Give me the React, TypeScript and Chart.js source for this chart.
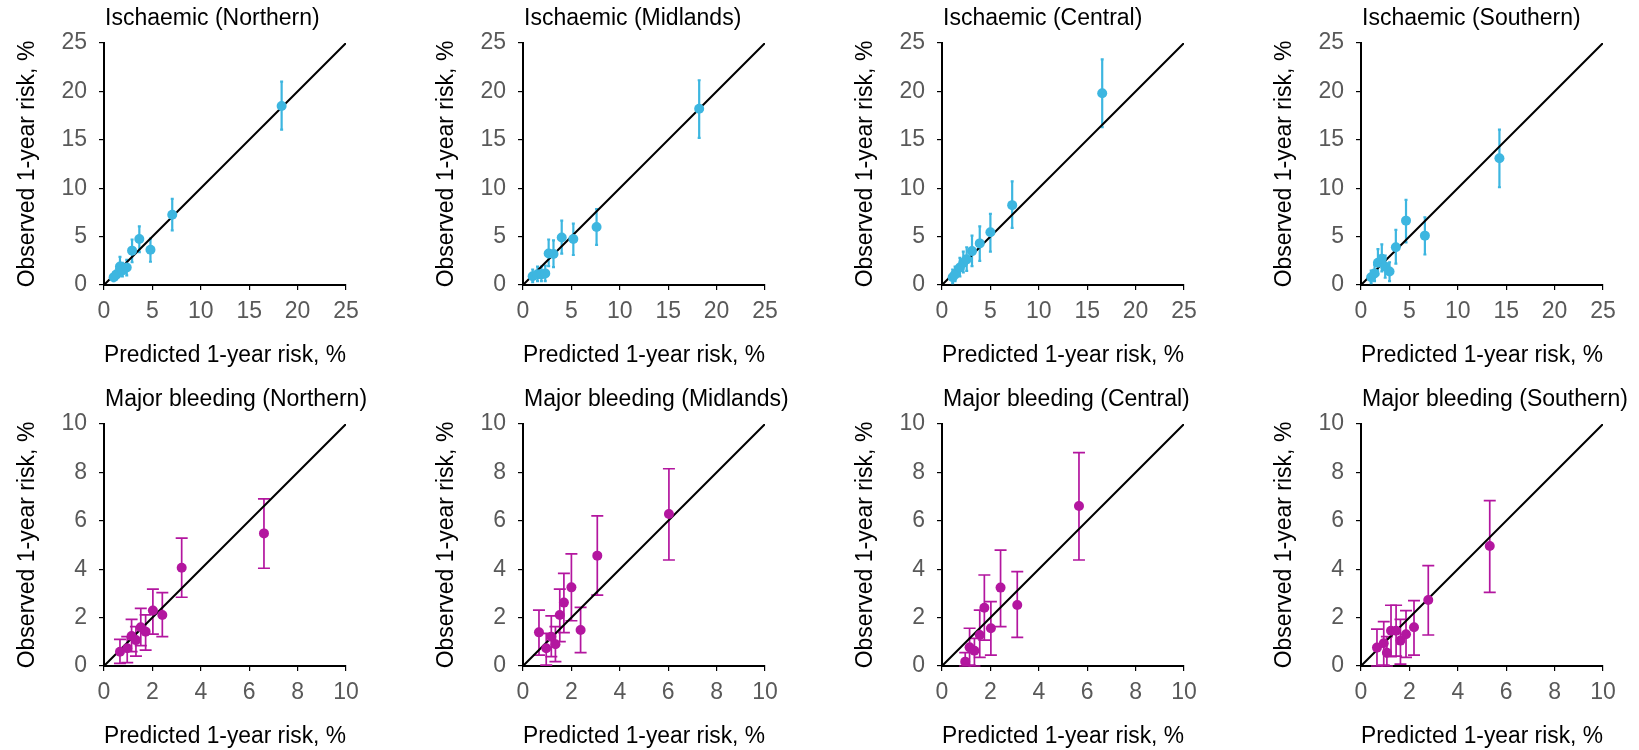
import React, { useEffect, useRef } from 'react';
import { Chart, registerables } from 'chart.js';

Chart.register(...registerables);

const FONT_FAMILY = '"Liberation Sans", Arial, Helvetica, sans-serif';
const ISCH_COLOR = '#3DB6E0';
const BLEED_COLOR = '#B3169F';
const TICK_COLOR = '#595959';

const X_TITLE = 'Predicted 1-year risk, %';
const Y_TITLE = 'Observed 1-year risk, %';

// Ischaemic (Northern)
const ischNorthernPred = [1.0, 1.3, 1.65, 1.9, 2.35, 2.9, 3.65, 4.8, 7.05, 18.35];
const ischNorthernObs = [0.8, 1.1, 1.9, 1.5, 1.8, 3.55, 4.75, 3.65, 7.25, 18.5];
const ischNorthernLo = [0.4, 0.6, 1.2, 0.9, 1.0, 2.35, 3.4, 2.4, 5.65, 16.05];
const ischNorthernHi = [1.3, 1.7, 2.9, 2.3, 2.6, 4.7, 6.05, 4.8, 8.9, 21.0];

// Ischaemic (Midlands)
const ischMidlandsPred = [1.0, 1.5, 1.9, 2.3, 2.65, 3.15, 4.0, 5.2, 7.6, 18.2];
const ischMidlandsObs = [0.9, 1.1, 1.1, 1.2, 3.25, 3.2, 4.9, 4.75, 6.0, 18.2];
const ischMidlandsLo = [0.3, 0.4, 0.4, 0.4, 1.95, 1.85, 3.25, 3.1, 4.15, 15.2];
const ischMidlandsHi = [1.6, 1.9, 1.9, 2.0, 4.7, 4.6, 6.65, 6.35, 7.85, 21.15];

// Ischaemic (Central)
const ischCentralPred = [1.1, 1.35, 1.85, 2.2, 2.55, 3.1, 3.9, 5.0, 7.25, 16.55];
const ischCentralObs = [0.8, 1.1, 1.8, 2.3, 2.65, 3.5, 4.3, 5.45, 8.25, 19.8];
const ischCentralLo = [0.2, 0.4, 0.9, 1.3, 1.45, 1.95, 2.5, 3.45, 5.9, 16.3];
const ischCentralHi = [1.6, 1.9, 2.8, 3.45, 3.9, 5.1, 6.05, 7.35, 10.7, 23.3];

// Ischaemic (Southern)
const ischSouthernPred = [1.05, 1.4, 1.75, 2.15, 2.5, 2.95, 3.6, 4.65, 6.6, 14.3];
const ischSouthernObs = [0.8, 1.2, 2.3, 2.7, 1.9, 1.4, 3.9, 6.65, 5.1, 13.1];
const ischSouthernLo = [0.2, 0.4, 1.1, 1.4, 0.75, 0.4, 2.2, 4.4, 3.15, 10.1];
const ischSouthernHi = [1.5, 2.1, 3.7, 4.2, 3.05, 2.35, 5.7, 8.8, 7.0, 16.05];

// Major bleeding (Northern)
const bleedNorthernPred = [0.66, 0.96, 1.14, 1.32, 1.52, 1.72, 2.02, 2.41, 3.21, 6.61];
const bleedNorthernObs = [0.59, 0.73, 1.24, 1.07, 1.6, 1.42, 2.29, 2.11, 4.06, 5.48];
const bleedNorthernLo = [0.11, 0.14, 0.59, 0.41, 0.84, 0.66, 1.32, 1.21, 2.84, 4.04];
const bleedNorthernHi = [1.1, 1.21, 1.93, 1.63, 2.38, 2.11, 3.18, 3.03, 5.28, 6.91];

// Major bleeding (Midlands)
const bleedMidlandsPred = [0.66, 0.96, 1.17, 1.34, 1.52, 1.69, 2.0, 2.38, 3.07, 6.03];
const bleedMidlandsObs = [1.39, 0.73, 1.21, 0.9, 2.11, 2.62, 3.25, 1.49, 4.56, 6.28];
const bleedMidlandsLo = [0.45, 0.04, 0.39, 0.18, 1.01, 1.38, 1.87, 0.55, 2.93, 4.38];
const bleedMidlandsHi = [2.31, 1.35, 2.07, 1.63, 3.18, 3.83, 4.63, 2.42, 6.2, 8.15];

// Major bleeding (Central)
const bleedCentralPred = [0.96, 1.14, 1.34, 1.56, 1.75, 2.02, 2.42, 3.11, 5.66];
const bleedCentralObs = [0.18, 0.77, 0.63, 1.28, 2.41, 1.56, 3.24, 2.52, 6.61];
const bleedCentralLo = [0, 0.04, 0, 0.36, 1.07, 0.45, 1.63, 1.18, 4.38];
const bleedCentralHi = [0.55, 1.56, 1.14, 2.31, 3.76, 2.66, 4.79, 3.9, 8.82];

// Major bleeding (Southern)
const bleedSouthernPred = [0.66, 0.94, 1.07, 1.24, 1.45, 1.63, 1.86, 2.19, 2.78, 5.32];
const bleedSouthernObs = [0.76, 0.94, 0.55, 1.46, 1.46, 1.05, 1.31, 1.6, 2.73, 4.96];
const bleedSouthernLo = [0, 0.04, 0, 0.39, 0.41, 0.08, 0.36, 0.45, 1.28, 3.04];
const bleedSouthernHi = [1.52, 1.83, 1.21, 2.51, 2.51, 1.93, 2.29, 2.7, 4.15, 6.83];

const ischAxisMax = 25;
const ischAxisStep = 5;
const bleedAxisMax = 10;
const bleedAxisStep = 2;

type Panel = {
  title: string;
  pred: number[];
  obs: number[];
  lo: number[];
  hi: number[];
  max: number;
  step: number;
  color: string;
  cap: number;
  barWidth: number;
};

const panels: Panel[] = [
  { title: 'Ischaemic (Northern)', pred: ischNorthernPred, obs: ischNorthernObs, lo: ischNorthernLo, hi: ischNorthernHi, max: ischAxisMax, step: ischAxisStep, color: ISCH_COLOR, cap: 1.5, barWidth: 2.2 },
  { title: 'Ischaemic (Midlands)', pred: ischMidlandsPred, obs: ischMidlandsObs, lo: ischMidlandsLo, hi: ischMidlandsHi, max: ischAxisMax, step: ischAxisStep, color: ISCH_COLOR, cap: 1.5, barWidth: 2.2 },
  { title: 'Ischaemic (Central)', pred: ischCentralPred, obs: ischCentralObs, lo: ischCentralLo, hi: ischCentralHi, max: ischAxisMax, step: ischAxisStep, color: ISCH_COLOR, cap: 1.5, barWidth: 2.2 },
  { title: 'Ischaemic (Southern)', pred: ischSouthernPred, obs: ischSouthernObs, lo: ischSouthernLo, hi: ischSouthernHi, max: ischAxisMax, step: ischAxisStep, color: ISCH_COLOR, cap: 1.5, barWidth: 2.2 },
  { title: 'Major bleeding (Northern)', pred: bleedNorthernPred, obs: bleedNorthernObs, lo: bleedNorthernLo, hi: bleedNorthernHi, max: bleedAxisMax, step: bleedAxisStep, color: BLEED_COLOR, cap: 6, barWidth: 1.7 },
  { title: 'Major bleeding (Midlands)', pred: bleedMidlandsPred, obs: bleedMidlandsObs, lo: bleedMidlandsLo, hi: bleedMidlandsHi, max: bleedAxisMax, step: bleedAxisStep, color: BLEED_COLOR, cap: 6, barWidth: 1.7 },
  { title: 'Major bleeding (Central)', pred: bleedCentralPred, obs: bleedCentralObs, lo: bleedCentralLo, hi: bleedCentralHi, max: bleedAxisMax, step: bleedAxisStep, color: BLEED_COLOR, cap: 6, barWidth: 1.7 },
  { title: 'Major bleeding (Southern)', pred: bleedSouthernPred, obs: bleedSouthernObs, lo: bleedSouthernLo, hi: bleedSouthernHi, max: bleedAxisMax, step: bleedAxisStep, color: BLEED_COLOR, cap: 6, barWidth: 1.7 },
];

const CANVAS_LEFTS = [0, 419, 838, 1257];
const CANVAS_TOPS = [0, 381];
const CANVAS_H = 369;
const AREA_TOP = 43;
const AREA_RIGHT = 346;
const TITLE_Y = 19;

function PanelChart({ panel, left, top, width }: { panel: Panel; left: number; top: number; width: number }) {
  const ref = useRef<HTMLCanvasElement | null>(null);

  useEffect(() => {
    if (!ref.current) return;
    const font = { family: FONT_FAMILY, size: 23, weight: 'normal' as const };
    const points = panel.pred.map((p, i) => ({ x: p, y: panel.obs[i] }));
    const errorBars = {
      id: 'errorBars',
      beforeDatasetsDraw(chart: any) {
        const { ctx } = chart;
        const xs = chart.scales.x;
        const ys = chart.scales.y;
        ctx.save();
        ctx.strokeStyle = panel.color;
        ctx.lineWidth = panel.barWidth;
        panel.pred.forEach((p, i) => {
          const px = xs.getPixelForValue(p);
          const pl = ys.getPixelForValue(panel.lo[i]);
          const ph = ys.getPixelForValue(panel.hi[i]);
          ctx.beginPath();
          ctx.moveTo(px, pl);
          ctx.lineTo(px, ph);
          ctx.moveTo(px - panel.cap, pl);
          ctx.lineTo(px + panel.cap, pl);
          ctx.moveTo(px - panel.cap, ph);
          ctx.lineTo(px + panel.cap, ph);
          ctx.stroke();
        });
        ctx.restore();
      },
    };
    const panelTitle = {
      id: 'panelTitle',
      afterDraw(chart: any) {
        const { ctx, chartArea } = chart;
        ctx.save();
        ctx.fillStyle = '#000';
        ctx.font = `normal 23px ${FONT_FAMILY}`;
        ctx.textAlign = 'left';
        ctx.textBaseline = 'middle';
        ctx.fillText(panel.title, chartArea.left + 1, TITLE_Y);
        ctx.restore();
      },
    };
    const axisCommon = (title: string, titlePadding: any, fit: (s: any) => void) => ({
      type: 'linear' as const,
      min: 0,
      max: panel.max,
      ticks: { stepSize: panel.step, color: TICK_COLOR, font, maxRotation: 0 },
      grid: { drawOnChartArea: false, drawTicks: true, tickLength: 5, color: '#000', lineWidth: 1.2 },
      border: { display: true, color: '#000', width: 2 },
      title: { display: true, text: title, color: '#000', font, padding: titlePadding },
      afterFit: fit,
    });
    const xAxis: any = axisCommon(X_TITLE, { top: 0, bottom: 0 }, (s: any) => { s.height = 84; });
    xAxis.ticks.padding = 8;
    const yAxis: any = axisCommon(Y_TITLE, { top: 14, bottom: 0 }, (s: any) => { s.width = 104; });
    yAxis.ticks.padding = 12;

    const chart = new Chart(ref.current, {
      type: 'scatter',
      data: {
        datasets: [
          {
            data: [{ x: 0, y: 0 }, { x: panel.max, y: panel.max }],
            showLine: true,
            borderColor: '#000',
            borderWidth: 2,
            pointRadius: 0,
            pointHoverRadius: 0,
            order: 2,
          } as any,
          {
            data: points,
            backgroundColor: panel.color,
            borderColor: panel.color,
            borderWidth: 0,
            pointRadius: 5,
            pointHoverRadius: 5,
            order: 1,
          },
        ],
      },
      options: {
        responsive: false,
        animation: false,
        events: [],
        layout: { padding: { left: 0, top: AREA_TOP, bottom: 0, right: width - AREA_RIGHT } },
        plugins: {
          legend: { display: false },
          tooltip: { enabled: false },
          title: { display: false },
        },
        scales: { x: xAxis, y: yAxis },
      },
      plugins: [errorBars, panelTitle],
    });
    return () => chart.destroy();
  }, [panel, width]);

  return (
    <canvas
      ref={ref}
      width={width}
      height={CANVAS_H}
      style={{ position: 'absolute', left, top, width, height: CANVAS_H, display: 'block' }}
    />
  );
}

export default function App() {
  return (
    <div style={{ position: 'absolute', left: 0, top: 0, width: 1639, height: 750, overflow: 'hidden', background: '#fff' }}>
      {panels.map((p, i) => {
        const col = i % 4;
        const row = Math.floor(i / 4);
        const left = CANVAS_LEFTS[col];
        const width = col === 3 ? 1639 - left : 419;
        return <PanelChart key={p.title} panel={p} left={left} top={CANVAS_TOPS[row]} width={width} />;
      })}
    </div>
  );
}
